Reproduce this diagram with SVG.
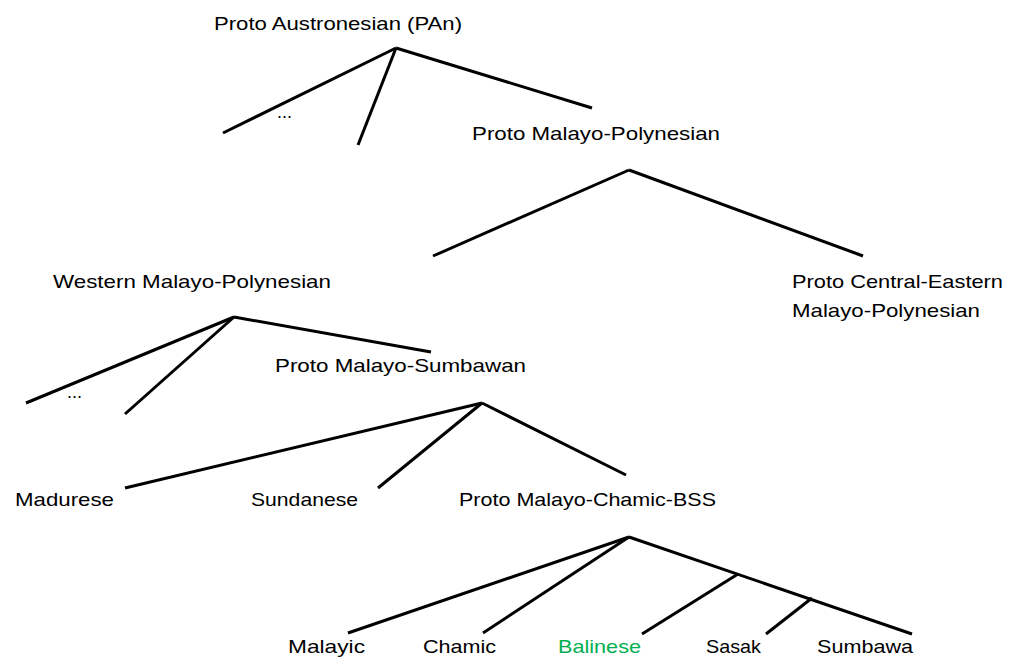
<svg xmlns="http://www.w3.org/2000/svg" width="1013" height="658" viewBox="0 0 1013 658">
<style>
text{font-family:"Liberation Sans",Arial,sans-serif;font-size:19px;fill:#000}
.g{fill:#00B050}
.c line{stroke:#000;stroke-width:3;stroke-linecap:butt}
</style>
<rect width="1013" height="658" fill="#fff"/>
<g id="connectors" class="c">
<line x1="396" y1="48" x2="223" y2="133"/>
<line x1="396" y1="48" x2="358" y2="145"/>
<line x1="396" y1="48" x2="592" y2="108"/>
<line x1="629" y1="170" x2="433" y2="256"/>
<line x1="629" y1="170" x2="863" y2="256"/>
<line x1="234" y1="317" x2="26" y2="403"/>
<line x1="234" y1="317" x2="125" y2="414"/>
<line x1="234" y1="317" x2="431" y2="352"/>
<line x1="482" y1="403" x2="125" y2="488"/>
<line x1="482" y1="403" x2="378" y2="488"/>
<line x1="482" y1="403" x2="626" y2="475"/>
<line x1="629" y1="537" x2="348" y2="633"/>
<line x1="629" y1="537" x2="483" y2="633"/>
<line x1="629" y1="537" x2="912" y2="634"/>
<line x1="738" y1="574" x2="642" y2="634"/>
<line x1="812" y1="598" x2="766" y2="634"/>
</g>
<g id="pan"><text x="214" y="30" textLength="248" lengthAdjust="spacingAndGlyphs">Proto Austronesian (PAn)</text></g>
<g id="pan-other"><text x="277" y="118" textLength="15" lengthAdjust="spacingAndGlyphs">...</text></g>
<g id="pmp"><text x="472" y="140" textLength="248" lengthAdjust="spacingAndGlyphs">Proto Malayo-Polynesian</text></g>
<g id="wmp"><text x="53" y="288" textLength="278" lengthAdjust="spacingAndGlyphs">Western Malayo-Polynesian</text></g>
<g id="pcemp"><text x="792" y="288" textLength="211" lengthAdjust="spacingAndGlyphs">Proto Central-Eastern</text><text x="792" y="317" textLength="188" lengthAdjust="spacingAndGlyphs">Malayo-Polynesian</text></g>
<g id="wmp-other"><text x="67" y="398" textLength="15" lengthAdjust="spacingAndGlyphs">...</text></g>
<g id="pms"><text x="275" y="372" textLength="251" lengthAdjust="spacingAndGlyphs">Proto Malayo-Sumbawan</text></g>
<g id="madurese"><text x="15" y="506" textLength="99" lengthAdjust="spacingAndGlyphs">Madurese</text></g>
<g id="sundanese"><text x="251" y="506" textLength="107" lengthAdjust="spacingAndGlyphs">Sundanese</text></g>
<g id="pmcb"><text x="459" y="506" textLength="257" lengthAdjust="spacingAndGlyphs">Proto Malayo-Chamic-BSS</text></g>
<g id="malayic"><text x="288" y="653" textLength="77" lengthAdjust="spacingAndGlyphs">Malayic</text></g>
<g id="chamic"><text x="423" y="653" textLength="73" lengthAdjust="spacingAndGlyphs">Chamic</text></g>
<g id="balinese"><text class="g" x="558" y="653" textLength="83" lengthAdjust="spacingAndGlyphs">Balinese</text></g>
<g id="sasak"><text x="706" y="653" textLength="55" lengthAdjust="spacingAndGlyphs">Sasak</text></g>
<g id="sumbawa"><text x="817" y="653" textLength="96" lengthAdjust="spacingAndGlyphs">Sumbawa</text></g>
</svg>
